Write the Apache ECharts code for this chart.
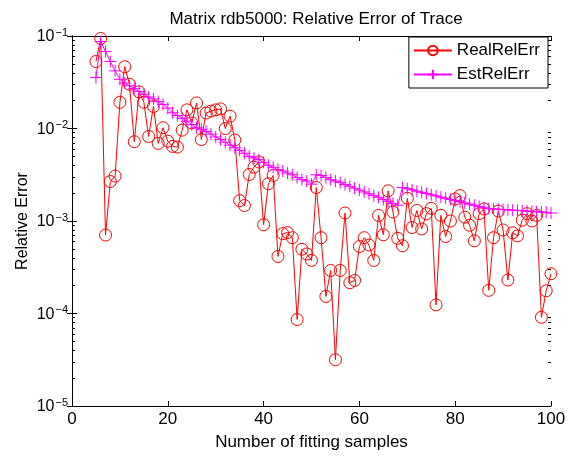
<!DOCTYPE html>
<html><head><meta charset="utf-8">
<script src="https://cdn.jsdelivr.net/npm/echarts@6/dist/echarts.min.js"></script>
<style>html,body{margin:0;padding:0;background:#fff}#c{width:574px;height:456px}</style>
</head><body><div id="c"></div>
<script>
var samples = [5,6,7,8,9,10,11,12,13,14,15,16,17,18,19,20,21,22,23,24,25,26,27,28,29,30,31,32,33,34,35,36,37,38,39,40,41,42,43,44,45,46,47,48,49,50,51,52,53,54,55,56,57,58,59,60,61,62,63,64,65,66,67,68,69,70,71,72,73,74,75,76,77,78,79,80,81,82,83,84,85,86,87,88,89,90,91,92,93,94,95,96,97,98,99,100];
var realRelErr = [0.053,0.094,7.05e-4,2.67e-3,3.06e-3,0.0192,0.0465,0.0301,7.2e-3,0.0249,
 0.0192,8.2e-3,0.0173,6.9e-3,0.0102,7.3e-3,6.4e-3,6.3e-3,9.6e-3,0.0159,
 0.0115,0.0189,7.6e-3,0.0147,0.0154,0.0159,0.0163,0.0100,0.0136,7.5e-3,
 1.66e-3,1.47e-3,3.18e-3,3.82e-3,4.35e-3,9.1e-4,2.53e-3,3.11e-3,4.14e-4,7.3e-4,
 7.5e-4,6.6e-4,8.6e-5,4.95e-4,4.4e-4,3.75e-4,2.3e-3,6.6e-4,1.53e-4,2.92e-4,
 3.16e-5,2.92e-4,1.22e-3,2.15e-4,2.28e-4,5.3e-4,6.6e-4,5.5e-4,3.75e-4,1.15e-3,
 7.1e-4,2.12e-3,1.25e-3,6.5e-4,5.4e-4,1.76e-3,8.5e-4,1.3e-3,8.2e-4,1.2e-3,
 1.37e-3,1.24e-4,1.15e-3,6.8e-4,1.0e-3,1.73e-3,1.88e-3,1.1e-3,9.0e-4,6.1e-4,
 1.2e-3,1.35e-3,1.78e-4,6.6e-4,1.28e-3,8.0e-4,2.3e-4,7.45e-4,6.9e-4,1.02e-3,
 1.2e-3,1.0e-3,1.15e-3,9.1e-5,1.76e-4,2.69e-4];
var estRelErr = [0.0355,0.087,0.068,0.053,0.042,0.034,0.031,0.029,0.027,0.0251,
 0.0234,0.0219,0.0209,0.0195,0.0182,0.0166,0.0148,0.0138,0.0129,0.0120,
 0.0110,0.0102,0.0098,0.0093,0.0087,0.0081,0.0076,0.0071,0.0066,0.0062,
 0.0058,0.0054,0.0050,0.0048,0.0046,0.0043,0.0040,0.0038,0.0036,0.00347,
 0.0033,0.00316,0.00295,0.0028,0.0027,0.0025,0.00316,0.0031,0.00295,0.0028,
 0.0027,0.0026,0.00248,0.00237,0.00226,0.00216,0.00206,0.00197,0.00188,0.0018,
 0.00171,0.00163,0.00155,0.00148,0.0023,0.00224,0.00217,0.0021,0.00204,0.00198,
 0.00192,0.00187,0.00181,0.00176,0.00171,0.00166,0.00161,0.00157,0.00152,0.00148,
 0.00143,0.00139,0.00136,0.00135,0.00134,0.00133,0.00132,0.00131,0.00130,0.00129,
 0.00128,0.00127,0.00126,0.00125,0.00124,0.00122];
var xTicks = [0,20,40,60,80,100];
var yDecades = [-5,-4,-3,-2,-1];

var minorLog = [];
yDecades.forEach(function(e){ if(e<-1){ for(var k=2;k<=9;k++){ minorLog.push(Math.log10(k)+e); } } });

var FONT = 'Liberation Sans, Arial, Helvetica, sans-serif';
var chart = echarts.init(document.getElementById('c'), null, {renderer:'canvas'});
var axisLine = {show:true, lineStyle:{color:'#000', width:1}};
var minorAxis = function(pos){
  return {type:'value', position:pos, min:-5, max:-1, gridIndex:0,
    axisLine:{show:false}, splitLine:{show:false}, axisLabel:{show:false},
    axisTick:{show:true, inside:true, length:3, customValues:minorLog, lineStyle:{color:'#000'}}};
};
chart.setOption({
  animation:false,
  backgroundColor:'#fff',
  textStyle:{fontFamily:FONT},
  title:{text:'Matrix rdb5000: Relative Error of Trace', left:311, textAlign:'center', top:6,
    textStyle:{fontSize:17, fontWeight:'normal', color:'#000', fontFamily:FONT}},
  grid:{left:72, right:23, top:36, bottom:44},
  legend:{orient:'vertical', right:26, top:37, itemWidth:38, itemHeight:12, itemGap:7,
    padding:[5,8,5,4], borderColor:'#000', borderWidth:1, backgroundColor:'#fff',
    textStyle:{fontSize:17, color:'#000', fontFamily:FONT},
    data:['RealRelErr','EstRelErr']},
  xAxis:[
    {type:'value', min:xTicks[0], max:xTicks[xTicks.length-1], interval:20, position:'bottom',
     name:'Number of fitting samples', nameLocation:'middle', nameGap:28,
     nameTextStyle:{fontSize:17, color:'#000', fontFamily:FONT},
     axisLine:axisLine, splitLine:{show:false},
     axisTick:{inside:true, length:5, lineStyle:{color:'#000'}},
     axisLabel:{fontSize:17, color:'#000', margin:5, fontFamily:FONT}},
    {type:'value', min:xTicks[0], max:xTicks[xTicks.length-1], interval:20, position:'top',
     axisLine:axisLine, splitLine:{show:false}, axisLabel:{show:false},
     axisTick:{inside:true, length:5, lineStyle:{color:'#000'}}}
  ],
  yAxis:[
    {type:'log', logBase:10, min:1e-5, max:1e-1, position:'left',
     name:'Relative Error', nameLocation:'middle', nameGap:41, nameMoveOverlap:false,
     nameTextStyle:{fontSize:16, color:'#000', fontFamily:FONT},
     axisLine:axisLine, splitLine:{show:false},
     axisTick:{inside:true, length:5, lineStyle:{color:'#000'}},
     axisLabel:{margin:4, color:'#000',
       formatter:function(v){ var e=Math.round(Math.log10(v)); return '{b|10}{s|\u2212'+Math.abs(e)+'}'; },
       rich:{b:{fontSize:16, color:'#000', fontFamily:FONT, verticalAlign:'bottom', lineHeight:18, padding:[6,0,0,0]},
             s:{fontSize:11, color:'#000', fontFamily:FONT, verticalAlign:'top', padding:[0,0,8,1], lineHeight:13}}}},
    {type:'log', logBase:10, min:1e-5, max:1e-1, position:'right',
     axisLine:axisLine, splitLine:{show:false}, axisLabel:{show:false},
     axisTick:{inside:true, length:5, lineStyle:{color:'#000'}}},
    minorAxis('left'),
    minorAxis('right')
  ],
  series:[
    {name:'RealRelErr', type:'line', xAxisIndex:0, yAxisIndex:0,
     data:samples.map(function(x,i){return [x, realRelErr[i]];}),
     symbol:'circle', symbolSize:12,
     lineStyle:{color:'#ff0000', width:1},
     itemStyle:{color:'rgba(255,255,255,0)', borderColor:'#ff0000', borderWidth:1}},
    {name:'EstRelErr', type:'line', xAxisIndex:0, yAxisIndex:0,
     data:samples.map(function(x,i){return [x, estRelErr[i]];}),
     symbol:'path://M0,5L10,5M5,0L5,10', symbolSize:12,
     lineStyle:{color:'#ff00ff', width:1},
     itemStyle:{color:'rgba(255,255,255,0)', borderColor:'#ff00ff', borderWidth:1}}
  ]
});
</script></body></html>
